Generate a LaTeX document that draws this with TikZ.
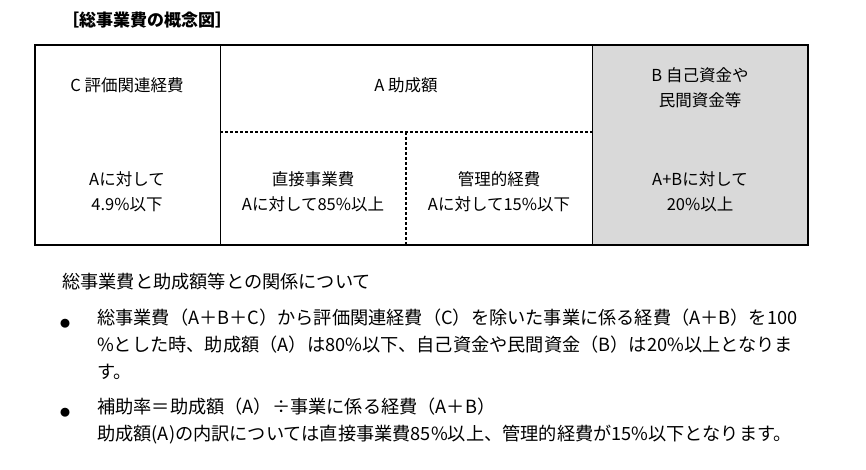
\documentclass[tikz,border=0pt]{standalone}
\usepackage{fontspec}
\setmainfont{Noto Sans CJK JP}
\begin{document}
\begin{tikzpicture}[x=1pt,y=-1pt,
  txt/.style={font=\fontsize{16.5}{25}\selectfont,align=center,inner sep=0},
  body/.style={font=\fontsize{18.2}{27}\selectfont,anchor=west,inner sep=0},
  dsh/.style={line width=1.2pt,dash pattern=on 3pt off 2pt}]
\useasboundingbox (0,0) rectangle (866,470);
\node[body,font=\bfseries\fontsize{17}{18}\selectfont] (title) at (62,20) {［総事業費の概念図］};
\fill[gray!30] (592,45) rectangle (808,245);
\draw[line width=2pt] (35,45) rectangle (808,245);
\draw[line width=1pt] (220,45) -- (220,245) (592,45) -- (592,245);
\draw[dsh] (220,132) -- (592,132);
\draw[dsh] (406,132) -- (406,245);
\node[txt] (c) at (127,85) {C 評価関連経費};
\node[txt] (a) at (406,85) {A 助成額};
\node[txt] (b) at (700,88) {B 自己資金や\\民間資金等};
\node[txt] (c2) at (127,192) {Aに対して\\4.9\%以下};
\node[txt] (a1) at (313,192) {直接事業費\\Aに対して85\%以上};
\node[txt] (a2) at (499,192) {管理的経費\\Aに対して15\%以下};
\node[txt] (b2) at (700,192) {A+Bに対して\\20\%以上};
\node[body] (h) at (62,282) {総事業費と助成額等との関係について};
\node[body,font=\fontsize{10}{12}\selectfont] (d1) at (60,324) {●};
\node[body,anchor=north west,align=left] (t1) at (97,309) {総事業費（A＋B＋C）から評価関連経費（C）を除いた事業に係る経費（A＋B）を100\\\%とした時、助成額（A）は80\%以下、自己資金や民間資金（B）は20\%以上となりま\\す。};
\node[body,font=\fontsize{10}{12}\selectfont] (d2) at (60,413) {●};
\node[body,anchor=north west,align=left] (t2) at (97,398) {補助率＝助成額（A）÷事業に係る経費（A＋B）\\助成額(A)の内訳については直接事業費85\%以上、管理的経費が15\%以下となります。};
\end{tikzpicture}
\end{document}
